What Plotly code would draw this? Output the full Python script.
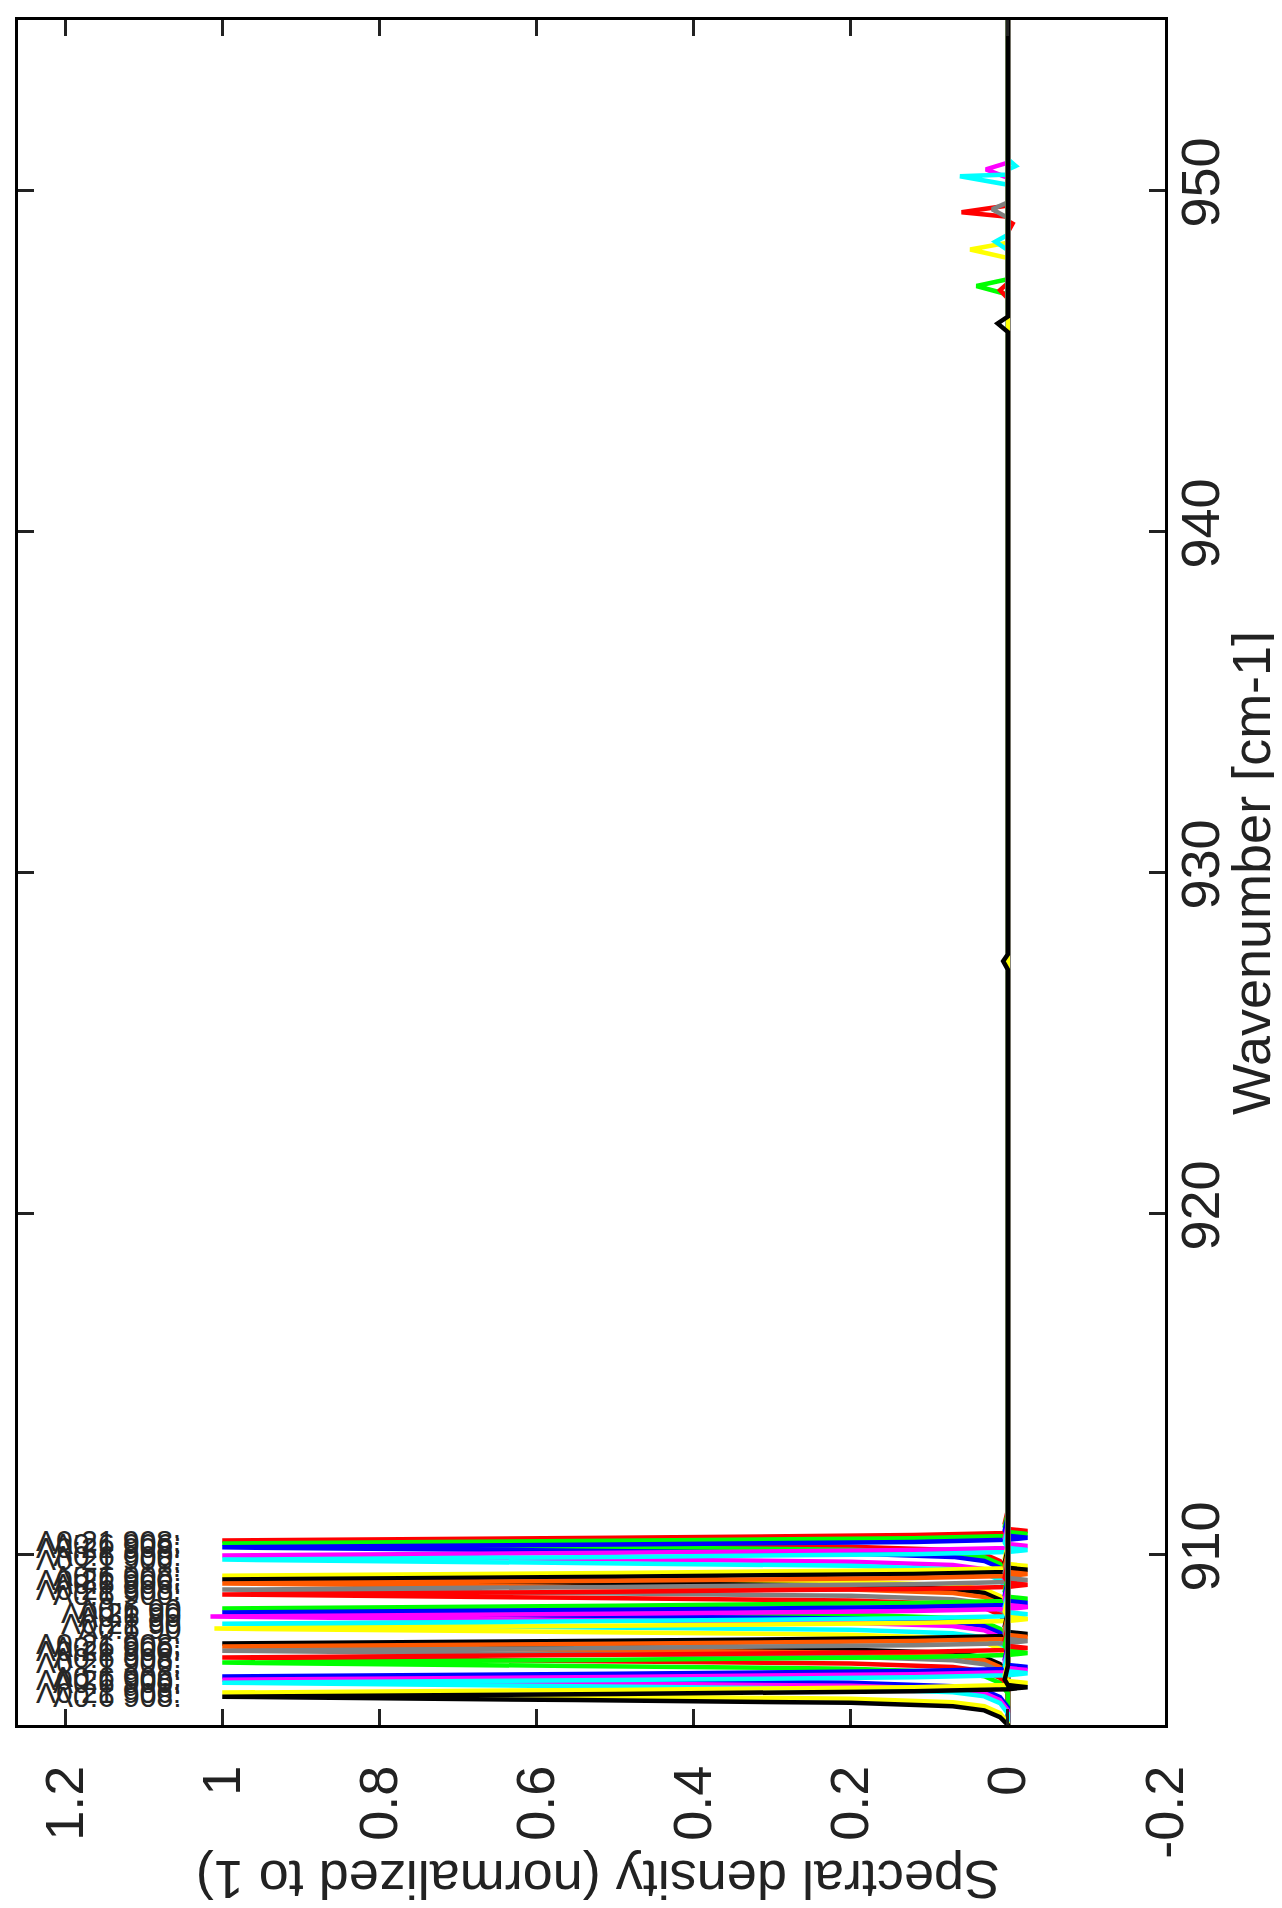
import plotly.graph_objects as go

# ---------------- data ----------------
PEAK_CENTERS = [910.41, 910.32, 910.21, 909.97, 909.85,
                909.38, 909.27, 909.15, 908.97, 908.83,
                908.42, 908.30, 908.18, 907.97, 907.83,
                907.39, 907.30, 907.18, 906.98, 906.83,
                906.42, 906.33, 906.24, 905.95, 905.83]
PEAK_HEIGHTS = [1.0, 1.0, 1.0, 1.0, 1.0,
                1.0, 1.0, 1.0, 1.0, 1.0,
                1.0, 1.0, 1.015, 1.0, 1.01,
                1.0, 1.0, 1.0, 1.0, 1.0,
                1.0, 1.0, 1.0, 1.0, 1.0]
# shared line-shape of the normalised peaks (offset in cm-1, relative height)
PEAK_OFFSETS = [-0.9, -0.6, -0.4, -0.28, -0.18, -0.1, 0.0, 0.08, 0.16, 0.22, 0.28, 0.34, 0.5, 0.9]
PEAK_SHAPE = [0.0, 0.01, 0.03, 0.07, 0.2, 0.55, 1.0, 0.5, 0.12, 0.0, -0.025, 0.0, 0.004, 0.0]

# small secondary features: curve index, wavenumber, height
EXTRA_CURVE = [4, 4, 0, 0, 5, 1, 24, 3, 8, 13, 9, 24]
EXTRA_WN = [950.42, 950.72, 949.36, 949.03, 948.27, 947.20, 946.10, 950.62, 949.45, 948.50, 947.08, 927.40]
EXTRA_VAL = [0.061, -0.010, 0.059, -0.006, 0.048, 0.040, 0.013, 0.028, 0.020, 0.016, 0.010, 0.006]
BUMP_OFFSETS = [-0.25, 0.0, 0.2]
BUMP_SHAPE = [0.0, 1.0, 0.0]

WN_RANGE = [905, 955]
DENSITY_RANGE = [1.26, -0.2]

COLOR_CYCLE = ["#FF0000", "#00FF00", "#0000FF", "#FF00FF", "#00FFFF",
               "#FFFF00", "#000000", "#FF5A00", "#808080"]

LABELS = ["Λ0:21 908:", "Λ0:6 906:", "Λ0:21 908:", "Λ0:6 900:", "Λ0:21 906:",
          "Λ0:6 908:", "Λ0:21 900:", "Λ0:6 906:", "Λ0:21 908:", "Λ0:6 900:",
          "Λ0:6 90", "Λ0:21 90", "Λ0:6 90", "Λ0:21 90", "Λ0:6 90",
          "Λ0:21 908:", "Λ0:6 906:", "Λ0:21 900:", "Λ0:6 908:", "Λ0:21 906:",
          "Λ0:6 906:", "Λ0:21 908:", "Λ0:6 900:", "Λ0:21 906:", "Λ0:6 908:"]
LABEL_X = 1.05

X_TICKS = [-0.2, 0, 0.2, 0.4, 0.6, 0.8, 1.0, 1.2]
X_TICKTEXT = ["-0.2", "0", "0.2", "0.4", "0.6", "0.8", "1", "1.2"]
Y_TICKS = [910, 920, 930, 940, 950]
Y_TICKTEXT = ["910", "920", "930", "940", "950"]

X_TITLE = "Spectral density (normalized to 1)"
Y_TITLE = "Wavenumber [cm-1]"

# ---------------- figure ----------------
W, H = 1282, 1908
ML, MR, MT, MB = 10, 125, 12, 191
FONT = "Liberation Sans, Arial, Helvetica, sans-serif"

fig = go.Figure()

for i, c in enumerate(PEAK_CENTERS):
    pts = [(WN_RANGE[0], 0.0), (WN_RANGE[1], 0.0)]
    for off, v in zip(PEAK_OFFSETS, PEAK_SHAPE):
        pts.append((c + off, v * PEAK_HEIGHTS[i]))
    for k, wn, val in zip(EXTRA_CURVE, EXTRA_WN, EXTRA_VAL):
        if k == i:
            for off, s in zip(BUMP_OFFSETS, BUMP_SHAPE):
                pts.append((wn + off, val * s))
    pts.sort(key=lambda p: p[0])
    fig.add_trace(go.Scatter(
        x=[p[1] for p in pts], y=[p[0] for p in pts], mode="lines",
        line=dict(color=COLOR_CYCLE[i % len(COLOR_CYCLE)], width=4.5),
        showlegend=False, hoverinfo="skip"))

for i, c in enumerate(PEAK_CENTERS):
    fig.add_annotation(x=LABEL_X, y=c, xref="x", yref="y", text=LABELS[i],
                       showarrow=False, xanchor="right", yanchor="middle",
                       font=dict(family="Liberation Sans Narrow, Arial Narrow, sans-serif",
                                 size=30, color="#262626"))

pw = W - ML - MR
ph = H - MT - MB
fig.add_annotation(text=X_TITLE, xref="paper", yref="paper",
                   x=(590 - ML) / pw, y=(H - MB - 1872) / ph,
                   textangle=180, showarrow=False, xanchor="center", yanchor="middle",
                   font=dict(family=FONT, size=54, color="#222222"))
fig.add_annotation(text=Y_TITLE, xref="paper", yref="paper",
                   x=(1243 - ML) / pw, y=(H - MB - 865) / ph,
                   textangle=-90, showarrow=False, xanchor="center", yanchor="middle",
                   font=dict(family=FONT, size=54, color="#222222"))

axis_common = dict(showgrid=False, zeroline=False, showline=True, linecolor="black",
                   linewidth=3, mirror="ticks", ticks="inside", ticklen=16,
                   tickwidth=2.5, tickcolor="#222222", tickangle=-90,
                   tickfont=dict(family=FONT, size=54, color="#222222"))

fig.update_layout(
    width=W, height=H,
    margin=dict(l=ML, r=MR, t=MT, b=MB, autoexpand=False),
    paper_bgcolor="white", plot_bgcolor="white",
    xaxis=dict(range=DENSITY_RANGE, tickvals=X_TICKS, ticktext=X_TICKTEXT,
               side="bottom", ticklabelstandoff=16, **axis_common),
    yaxis=dict(range=WN_RANGE, tickvals=Y_TICKS, ticktext=Y_TICKTEXT,
               side="right", ticklabelstandoff=-14, **axis_common),
)

fig.write_html("out.html")
